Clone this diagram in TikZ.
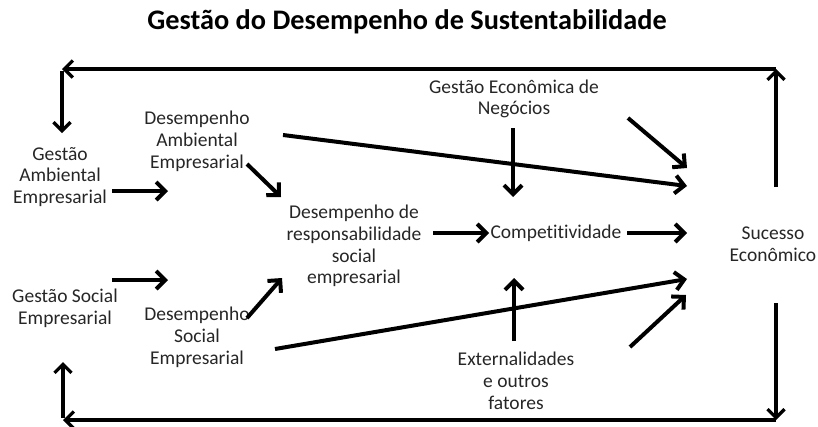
\documentclass[tikz,border=0pt]{standalone}
\usepackage{fontspec}
\setmainfont{Carlito}[Ligatures=NoCommon]
\usetikzlibrary{arrows.meta}
\begin{document}
\begin{tikzpicture}[x=1pt,y=-1pt,
  lbl/.style={align=center, font=\fontsize{19.5}{21.8}\selectfont, inner sep=0pt, text=black!85},
  titlestyle/.style={font=\fontsize{28.3}{32}\selectfont\bfseries, inner sep=0pt},
  arr/.style={line width=4pt, -{Straight Barb[length=9pt,width=18pt]}},
  looparr/.style={line width=3.3pt, -{Straight Barb[length=8.5pt,width=17pt]}}]
\useasboundingbox (0,0) rectangle (818,426);

\node[titlestyle] (title) at (407,22) {Gestão do Desempenho de Sustentabilidade};

\node[lbl] (gam) at (60,177) {Gestão\\Ambiental\\Empresarial};
\node[lbl] (dam) at (197,141) {Desempenho\\Ambiental\\Empresarial};
\node[lbl] (gse) at (65,308) {Gestão Social\\Empresarial};
\node[lbl] (dse) at (197,337) {Desempenho\\Social\\Empresarial};
\node[lbl] (drs) at (354,246) {Desempenho de\\responsabilidade\\social\\empresarial};
\node[lbl] (comp) at (556,233) {Competitividade};
\node[lbl] (suc) at (773,244) {Sucesso\\Econômico};
\node[lbl] (gen) at (514,99) {Gestão Econômica de\\Negócios};
\node[lbl] (ext) at (516,381) {Externalidades\\e outros\\fatores};

% arrow end points
\coordinate (a1s) at (112,191); \coordinate (a1e) at (168,191);
\coordinate (a2s) at (247,164); \coordinate (a2e) at (281,197);
\coordinate (a3s) at (283,135); \coordinate (a3e) at (687,186);
\coordinate (a4s) at (112,280); \coordinate (a4e) at (168,280);
\coordinate (a5s) at (247,318); \coordinate (a5e) at (282,278);
\coordinate (a6s) at (275,349); \coordinate (a6e) at (687,279);
\coordinate (a7s) at (433,233); \coordinate (a7e) at (489,233);
\coordinate (a8s) at (627,233); \coordinate (a8e) at (687,233);
\coordinate (a9s) at (513,128); \coordinate (a9e) at (513,197);
\coordinate (a10s) at (628,118); \coordinate (a10e) at (687,168);
\coordinate (a11s) at (514,341); \coordinate (a11e) at (514,278);
\coordinate (a12s) at (630,347); \coordinate (a12e) at (686,295);

\coordinate (tr0) at (776,187); \coordinate (tr) at (776,69);
\coordinate (tl) at (62,69); \coordinate (tl1) at (62,71); \coordinate (tl2) at (62,133);
\coordinate (br0) at (776,303); \coordinate (br) at (776,420);
\coordinate (bl) at (63,420); \coordinate (bl1) at (63,418); \coordinate (bl2) at (63,362);

\draw[arr] (a1s) -- (a1e);
\draw[arr] (a2s) -- (a2e);
\draw[arr] (a3s) -- (a3e);
\draw[arr] (a4s) -- (a4e);
\draw[arr] (a5s) -- (a5e);
\draw[arr] (a6s) -- (a6e);
\draw[arr] (a7s) -- (a7e);
\draw[arr] (a8s) -- (a8e);
\draw[arr] (a9s) -- (a9e);
\draw[arr] (a10s) -- (a10e);
\draw[arr] (a11s) -- (a11e);
\draw[arr] (a12s) -- (a12e);

\draw[looparr] (tr0) -- (tr);
\draw[looparr] (tr) -- (tl);
\draw[looparr] (tl1) -- (tl2);
\draw[looparr] (br0) -- (br);
\draw[looparr] (br) -- (bl);
\draw[looparr] (bl1) -- (bl2);
\end{tikzpicture}
\end{document}
